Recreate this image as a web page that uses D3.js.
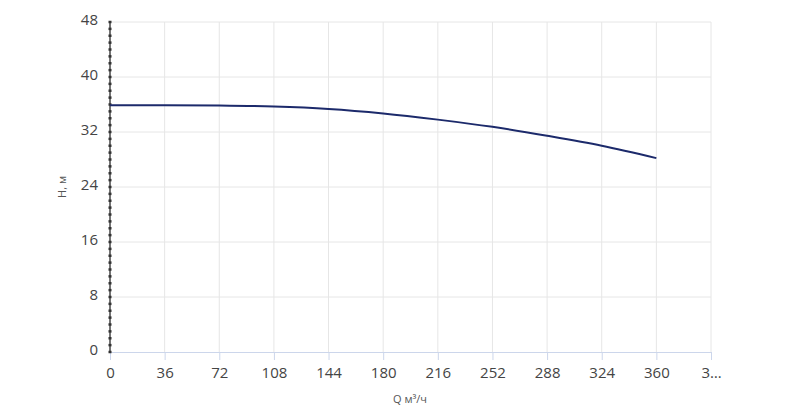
<!DOCTYPE html>
<html><head><meta charset="utf-8">
<script src="https://cdn.jsdelivr.net/npm/d3@7"></script>
<style>body{margin:0;background:#fff;font-family:"Open Sans",sans-serif}</style>
</head><body><svg id="c" width="800" height="408"></svg>
<script>
const xTicks = [0, 36, 72, 108, 144, 180, 216, 252, 288, 324, 360, 396];
const yTicks = [0, 8, 16, 24, 32, 40, 48];
const flow = [0, 36, 72, 108, 144, 180, 216, 252, 288, 324, 360];
const head = [35.9, 35.9, 35.85, 35.7, 35.35, 34.7, 33.8, 32.75, 31.45, 30.0, 28.2];

const svg = d3.select("#c");
const x = d3.scaleLinear().domain([0, 396]).range([110, 711]);
const y = d3.scaleLinear().domain([0, 48]).range([352, 22]);

// grid
svg.append("g").selectAll("line").data(xTicks.slice(1)).enter().append("line")
  .attr("x1", d => x(d)).attr("x2", d => x(d)).attr("y1", y(48)).attr("y2", y(0))
  .attr("stroke", "#e6e6e6");
svg.append("g").selectAll("line").data(yTicks.slice(1)).enter().append("line")
  .attr("x1", x(0)).attr("x2", x(396)).attr("y1", d => y(d)).attr("y2", d => y(d))
  .attr("stroke", "#e6e6e6");

// x axis
const xa = svg.append("g").attr("transform", `translate(0,${y(0)})`)
  .call(d3.axisBottom(x).tickValues(xTicks).tickSize(8).tickFormat(d => d === 396 ? "3…" : d));
xa.select(".domain").attr("stroke", "#ccd6eb");
xa.selectAll(".tick line").attr("stroke", "#ccd6eb");
xa.selectAll("text").attr("font-size", 15).attr("fill", "#444").attr("dy", "1em")
  .attr("font-family", "Open Sans");

// y axis (dark line with minor dots)
const minor = d3.range(0, 49, 1);
svg.append("line").attr("x1", x(0)).attr("x2", x(0)).attr("y1", y(48)).attr("y2", y(0))
  .attr("stroke", "#444").attr("stroke-width", 1.5);
svg.append("g").selectAll("line").data(minor).enter().append("line")
  .attr("x1", x(0) - 1.5).attr("x2", x(0) + 1.5).attr("y1", d => y(d)).attr("y2", d => y(d))
  .attr("stroke", "#333").attr("stroke-width", 2.5);
svg.append("g").selectAll("text").data(yTicks).enter().append("text")
  .attr("x", x(0) - 12).attr("y", d => y(d) + 3).attr("text-anchor", "end")
  .attr("font-size", 15).attr("fill", "#444").text(d => d);

// titles
svg.append("text").attr("x", 410).attr("y", 403).attr("text-anchor", "middle")
  .attr("font-size", 11).attr("fill", "#555").text("Q м³/ч");
svg.append("text").attr("transform", "translate(66,187) rotate(-90)").attr("text-anchor", "middle")
  .attr("font-size", 11).attr("fill", "#555").text("H, м");

// curve
svg.append("path").datum(flow.map((q, i) => [q, head[i]]))
  .attr("d", d3.line().x(d => x(d[0])).y(d => y(d[1])).curve(d3.curveMonotoneX))
  .attr("fill", "none").attr("stroke", "#1c2a6b").attr("stroke-width", 2);
</script></body></html>
